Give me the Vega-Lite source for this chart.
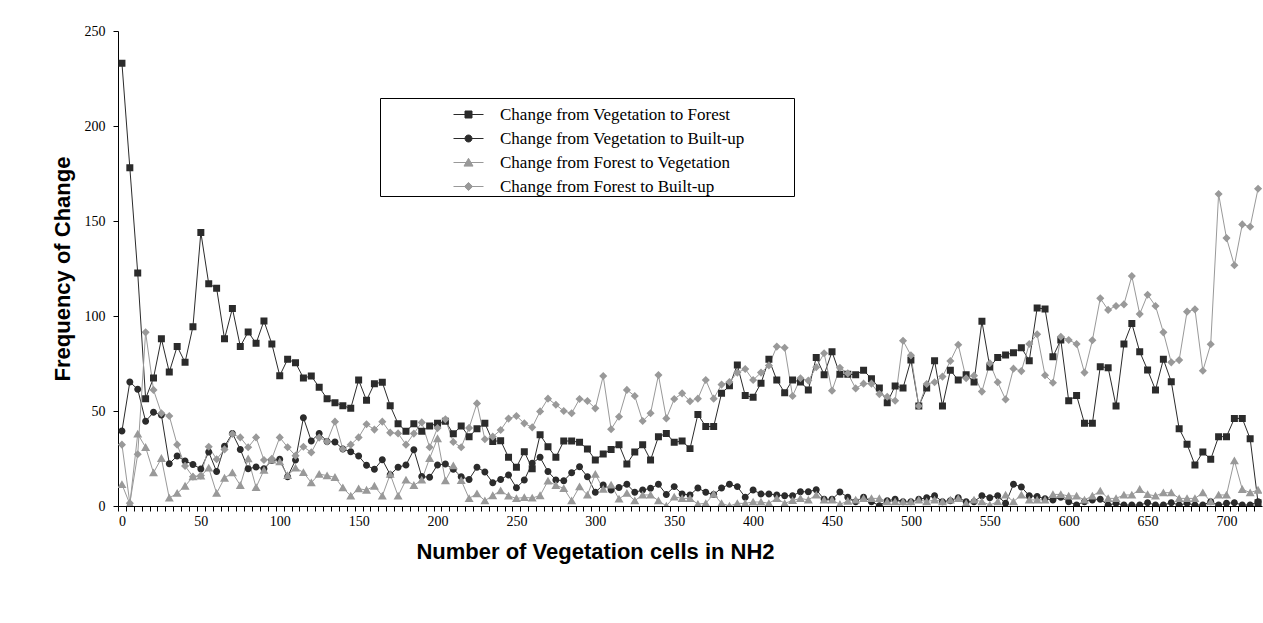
{
  "$schema": "https://vega.github.io/schema/vega-lite/v6.json",
  "width": 1144,
  "height": 475,
  "autosize": "none",
  "padding": {"left": 118, "top": 31, "right": 1, "bottom": 117},
  "background": "white",
  "config": {
    "view": {"stroke": null},
    "font": "Liberation Serif",
    "axis": {"domainColor": "black", "tickColor": "black", "labelColor": "black", "titleColor": "black", "grid": false, "domainWidth": 1, "tickWidth": 1},
    "legend": {
      "orient": "none", "legendX": 262, "legendY": 67, "padding": 1,
      "strokeColor": "black", "fillColor": "white",
      "symbolSize": 900, "symbolOffset": 72, "labelOffset": 16, "rowPadding": -3,
      "symbolStrokeWidth": 1, "symbolOpacity": 1,
      "labelFont": "Liberation Serif", "labelFontSize": 17, "labelColor": "black", "labelLimit": 0
    }
  },
  "data": {"values": [
    {"x":0,"VF":233,"VB":39.5,"FV":11.4,"FB":32.3},
    {"x":5,"VF":178,"VB":65.3,"FV":1,"FB":1.5},
    {"x":10,"VF":122.6,"VB":61.4,"FV":37.9,"FB":27.2},
    {"x":15,"VF":56.5,"VB":44.6,"FV":30.9,"FB":91.4},
    {"x":20,"VF":67.4,"VB":49.3,"FV":17.5,"FB":61.1},
    {"x":25,"VF":88,"VB":47.9,"FV":25.1,"FB":48.8},
    {"x":30,"VF":70.5,"VB":22.3,"FV":4.2,"FB":47.4},
    {"x":35,"VF":84,"VB":26.3,"FV":6.7,"FB":32.3},
    {"x":40,"VF":75.6,"VB":23.7,"FV":10.5,"FB":21.1},
    {"x":45,"VF":94.4,"VB":21.9,"FV":15.4,"FB":15.4},
    {"x":50,"VF":144,"VB":19.5,"FV":15.8,"FB":16},
    {"x":55,"VF":117,"VB":28.4,"FV":20,"FB":31.2},
    {"x":60,"VF":114.6,"VB":18.1,"FV":6.7,"FB":24.6},
    {"x":65,"VF":88,"VB":31.4,"FV":14.7,"FB":29.8},
    {"x":70,"VF":104,"VB":38.2,"FV":17.5,"FB":37.9},
    {"x":75,"VF":84,"VB":29.8,"FV":10.9,"FB":36.1},
    {"x":80,"VF":91.6,"VB":19.6,"FV":24.9,"FB":30.9},
    {"x":85,"VF":85.6,"VB":20.5,"FV":9.8,"FB":36.1},
    {"x":90,"VF":97.4,"VB":19.6,"FV":18.9,"FB":24.2},
    {"x":95,"VF":85.3,"VB":23.9,"FV":24.2,"FB":24.9},
    {"x":100,"VF":68.6,"VB":24.6,"FV":23.3,"FB":36.1},
    {"x":105,"VF":77.2,"VB":15.4,"FV":16.1,"FB":30.9},
    {"x":110,"VF":75.4,"VB":24.2,"FV":20,"FB":26.5},
    {"x":115,"VF":67.4,"VB":46.5,"FV":17.7,"FB":31.2},
    {"x":120,"VF":68.4,"VB":34.2,"FV":12.3,"FB":28.2},
    {"x":125,"VF":62.5,"VB":38.2,"FV":16.8,"FB":36},
    {"x":130,"VF":56.5,"VB":34,"FV":16,"FB":33.9},
    {"x":135,"VF":54.4,"VB":33.7,"FV":15.1,"FB":44.4},
    {"x":140,"VF":52.8,"VB":30,"FV":9.6,"FB":30},
    {"x":145,"VF":51.4,"VB":28.6,"FV":5.3,"FB":32.3},
    {"x":150,"VF":66.3,"VB":26.3,"FV":9.1,"FB":36.1},
    {"x":155,"VF":55.6,"VB":21.4,"FV":8.4,"FB":43},
    {"x":160,"VF":64.4,"VB":19.3,"FV":10.5,"FB":40.2},
    {"x":165,"VF":65.1,"VB":24.4,"FV":5.3,"FB":44.4},
    {"x":170,"VF":52.8,"VB":16.5,"FV":16.7,"FB":38.6},
    {"x":175,"VF":43.3,"VB":20.4,"FV":5.3,"FB":38.2},
    {"x":180,"VF":39.3,"VB":21.6,"FV":13.7,"FB":32.3},
    {"x":185,"VF":43.3,"VB":29.6,"FV":10.9,"FB":38.1},
    {"x":190,"VF":39.3,"VB":15.5,"FV":13.7,"FB":44},
    {"x":195,"VF":42.1,"VB":15.1,"FV":25.1,"FB":30.9},
    {"x":200,"VF":43.5,"VB":21.6,"FV":35.5,"FB":41},
    {"x":205,"VF":44.6,"VB":22.1,"FV":13.3,"FB":45.6},
    {"x":210,"VF":38,"VB":19.3,"FV":21.2,"FB":33.7},
    {"x":215,"VF":42.1,"VB":15.4,"FV":13.5,"FB":30.9},
    {"x":220,"VF":36.5,"VB":14,"FV":4,"FB":41.1},
    {"x":225,"VF":40.7,"VB":20.4,"FV":6.5,"FB":54},
    {"x":230,"VF":43.5,"VB":17.9,"FV":2.8,"FB":35.1},
    {"x":235,"VF":34,"VB":12.3,"FV":5.5,"FB":36.5},
    {"x":240,"VF":34.4,"VB":14,"FV":8.1,"FB":40},
    {"x":245,"VF":25.6,"VB":16.3,"FV":5.3,"FB":46},
    {"x":250,"VF":20.4,"VB":9.6,"FV":4,"FB":47.4},
    {"x":255,"VF":28.6,"VB":13.7,"FV":4.5,"FB":43.5},
    {"x":260,"VF":19.6,"VB":22.5,"FV":4.2,"FB":41.4},
    {"x":265,"VF":37.5,"VB":25.6,"FV":5.5,"FB":49.8},
    {"x":270,"VF":31.2,"VB":18.1,"FV":13.2,"FB":56.5},
    {"x":275,"VF":25.6,"VB":13.7,"FV":10.9,"FB":53.3},
    {"x":280,"VF":34.2,"VB":13.3,"FV":9.3,"FB":50},
    {"x":285,"VF":34.2,"VB":17.5,"FV":2.8,"FB":48.8},
    {"x":290,"VF":33.5,"VB":20.7,"FV":10.2,"FB":56.3},
    {"x":295,"VF":30,"VB":15.4,"FV":5.8,"FB":55.3},
    {"x":300,"VF":24.2,"VB":7.2,"FV":16.8,"FB":51.4},
    {"x":305,"VF":27.4,"VB":11.1,"FV":8.9,"FB":68.4},
    {"x":310,"VF":29.8,"VB":8.4,"FV":11.1,"FB":40.4},
    {"x":315,"VF":32.3,"VB":9.8,"FV":3.7,"FB":47},
    {"x":320,"VF":22.1,"VB":11.4,"FV":6.7,"FB":61.1},
    {"x":325,"VF":28.4,"VB":7.2,"FV":2.8,"FB":57.9},
    {"x":330,"VF":32.3,"VB":8.4,"FV":5.8,"FB":44.7},
    {"x":335,"VF":24.2,"VB":9.3,"FV":5.8,"FB":48.8},
    {"x":340,"VF":36.5,"VB":11.4,"FV":2.8,"FB":68.9},
    {"x":345,"VF":38.2,"VB":6.1,"FV":0,"FB":46.1},
    {"x":350,"VF":33.5,"VB":10.2,"FV":4.8,"FB":56.3},
    {"x":355,"VF":34.2,"VB":6.3,"FV":4,"FB":59.3},
    {"x":360,"VF":30.2,"VB":5.8,"FV":4,"FB":55.1},
    {"x":365,"VF":48.2,"VB":9.5,"FV":1,"FB":56.5},
    {"x":370,"VF":41.8,"VB":7.2,"FV":1.4,"FB":66.3},
    {"x":375,"VF":41.8,"VB":6,"FV":6.3,"FB":56.5},
    {"x":380,"VF":59.3,"VB":9.5,"FV":1.4,"FB":63.9},
    {"x":385,"VF":63.3,"VB":11.4,"FV":0,"FB":65.3},
    {"x":390,"VF":74.2,"VB":10.2,"FV":1.4,"FB":70.2},
    {"x":395,"VF":58.1,"VB":4.6,"FV":1.4,"FB":72.1},
    {"x":400,"VF":57.2,"VB":8.4,"FV":2.1,"FB":66.3},
    {"x":405,"VF":64.6,"VB":6.3,"FV":2.1,"FB":70.2},
    {"x":410,"VF":77.2,"VB":6.3,"FV":1.4,"FB":74},
    {"x":415,"VF":66.3,"VB":5.8,"FV":4,"FB":83.9},
    {"x":420,"VF":59.6,"VB":5.4,"FV":1.4,"FB":83.3},
    {"x":425,"VF":66.3,"VB":5.4,"FV":2.9,"FB":57.9},
    {"x":430,"VF":65.3,"VB":7.5,"FV":4,"FB":67.2},
    {"x":435,"VF":61.1,"VB":7.5,"FV":3.2,"FB":66},
    {"x":440,"VF":78.2,"VB":8.6,"FV":5.8,"FB":73},
    {"x":445,"VF":69.1,"VB":3.5,"FV":3.2,"FB":80.4},
    {"x":450,"VF":81.2,"VB":3.5,"FV":3.2,"FB":60.7},
    {"x":455,"VF":69.3,"VB":7.4,"FV":0.9,"FB":72.8},
    {"x":460,"VF":69.3,"VB":4.6,"FV":2.6,"FB":69.8},
    {"x":465,"VF":69.1,"VB":2.3,"FV":3.2,"FB":61.9},
    {"x":470,"VF":71.4,"VB":4.6,"FV":4,"FB":64.4},
    {"x":475,"VF":67,"VB":2.3,"FV":4,"FB":64.4},
    {"x":480,"VF":62.1,"VB":0.2,"FV":4,"FB":58.9},
    {"x":485,"VF":54.4,"VB":2.8,"FV":2.3,"FB":57.5},
    {"x":490,"VF":63.2,"VB":3.5,"FV":2.3,"FB":55.4},
    {"x":495,"VF":62.1,"VB":2.3,"FV":2.3,"FB":87},
    {"x":500,"VF":76.8,"VB":2.3,"FV":2.3,"FB":79.3},
    {"x":505,"VF":52.6,"VB":3.5,"FV":3.2,"FB":52.6},
    {"x":510,"VF":62.1,"VB":4.4,"FV":2.3,"FB":64.2},
    {"x":515,"VF":76.5,"VB":5.4,"FV":3.2,"FB":65.1},
    {"x":520,"VF":52.6,"VB":2.3,"FV":2.3,"FB":68.1},
    {"x":525,"VF":71.4,"VB":2.8,"FV":3.2,"FB":76.3},
    {"x":530,"VF":66.3,"VB":4.4,"FV":4,"FB":84.9},
    {"x":535,"VF":69.1,"VB":2.3,"FV":1.4,"FB":67.2},
    {"x":540,"VF":65.3,"VB":2.3,"FV":3.2,"FB":68.6},
    {"x":545,"VF":97.2,"VB":5.4,"FV":2.3,"FB":60.2},
    {"x":550,"VF":73.2,"VB":4.4,"FV":0.5,"FB":75.1},
    {"x":555,"VF":78.1,"VB":5.4,"FV":2.3,"FB":65.1},
    {"x":560,"VF":79.5,"VB":1.4,"FV":5.8,"FB":56.1},
    {"x":565,"VF":80.7,"VB":11.4,"FV":2.3,"FB":72.3},
    {"x":570,"VF":83.3,"VB":10,"FV":5.8,"FB":71},
    {"x":575,"VF":76.5,"VB":5.4,"FV":3.2,"FB":85.3},
    {"x":580,"VF":104.2,"VB":5,"FV":3.2,"FB":90.4},
    {"x":585,"VF":103.7,"VB":3.8,"FV":3.2,"FB":68.8},
    {"x":590,"VF":78.6,"VB":3.2,"FV":6.1,"FB":64.9},
    {"x":595,"VF":87.4,"VB":4.6,"FV":6.1,"FB":89.1},
    {"x":600,"VF":55.4,"VB":2.3,"FV":5.3,"FB":87.4},
    {"x":605,"VF":58.2,"VB":0.5,"FV":5.3,"FB":85.3},
    {"x":610,"VF":43.5,"VB":2.3,"FV":3.2,"FB":70.2},
    {"x":615,"VF":43.5,"VB":3.2,"FV":5.3,"FB":87.2},
    {"x":620,"VF":73.3,"VB":3.5,"FV":7.9,"FB":109.3},
    {"x":625,"VF":72.8,"VB":0.5,"FV":4,"FB":103.2},
    {"x":630,"VF":52.6,"VB":1.4,"FV":4,"FB":105.3},
    {"x":635,"VF":85.3,"VB":0.5,"FV":5.8,"FB":106.1},
    {"x":640,"VF":96.1,"VB":0.5,"FV":5.8,"FB":121},
    {"x":645,"VF":81.2,"VB":0.5,"FV":8.8,"FB":101},
    {"x":650,"VF":71.6,"VB":1.75,"FV":6.1,"FB":111.2},
    {"x":655,"VF":61.1,"VB":0.5,"FV":5.3,"FB":105.3},
    {"x":660,"VF":77.2,"VB":0.5,"FV":7,"FB":91.4},
    {"x":665,"VF":65.4,"VB":1.75,"FV":7,"FB":75.6},
    {"x":670,"VF":40.7,"VB":0.5,"FV":4,"FB":76.8},
    {"x":675,"VF":32.5,"VB":1.4,"FV":4,"FB":102.3},
    {"x":680,"VF":21.6,"VB":0.5,"FV":4,"FB":103.5},
    {"x":685,"VF":28.4,"VB":0.5,"FV":7,"FB":71.2},
    {"x":690,"VF":24.6,"VB":2.3,"FV":2.3,"FB":85.1},
    {"x":695,"VF":36.5,"VB":0.5,"FV":5.8,"FB":164.2},
    {"x":700,"VF":36.5,"VB":1.4,"FV":5.8,"FB":141},
    {"x":705,"VF":46.1,"VB":1.75,"FV":23.9,"FB":126.7},
    {"x":710,"VF":46.1,"VB":0.5,"FV":8.8,"FB":148.2},
    {"x":715,"VF":35.4,"VB":0.5,"FV":7,"FB":147},
    {"x":720,"VF":1.75,"VB":2.3,"FV":8.4,"FB":167}
  ]},
  "transform": [{"fold": ["VF", "VB", "FV", "FB"], "as": ["series", "v"]}],
  "encoding": {
    "x": {
      "field": "x", "type": "quantitative",
      "scale": {"domain": [-2.5, 722.5], "nice": false, "zero": false},
      "axis": {
        "title": "Number of Vegetation cells in NH2",
        "values": [0,5,10,15,20,25,30,35,40,45,50,55,60,65,70,75,80,85,90,95,100,105,110,115,120,125,130,135,140,145,150,155,160,165,170,175,180,185,190,195,200,205,210,215,220,225,230,235,240,245,250,255,260,265,270,275,280,285,290,295,300,305,310,315,320,325,330,335,340,345,350,355,360,365,370,375,380,385,390,395,400,405,410,415,420,425,430,435,440,445,450,455,460,465,470,475,480,485,490,495,500,505,510,515,520,525,530,535,540,545,550,555,560,565,570,575,580,585,590,595,600,605,610,615,620,625,630,635,640,645,650,655,660,665,670,675,680,685,690,695,700,705,710,715,720],
        "format": "d",
        "labelExpr": "datum.value % 50 === 0 ? datum.label : ''",
        "labelOverlap": false,
        "labelBound": false,
        "labelFlush": false,
        "tickOffset": -3.945,
        "labelOffset": 3.945,
        "tickSize": 5,
        "labelPadding": 3,
        "labelFont": "Liberation Serif",
        "labelFontSize": 14,
        "titleFont": "Liberation Sans",
        "titleFontSize": 22,
        "titleFontWeight": "bold",
        "titleX": 477,
        "titleY": 45,
        "titleBaseline": "middle",
        "titleAlign": "center"
      }
    },
    "y": {
      "field": "v", "type": "quantitative",
      "scale": {"domain": [0, 250], "nice": false},
      "axis": {
        "title": "Frequency of Change",
        "values": [0, 50, 100, 150, 200, 250],
        "format": "d",
        "tickSize": 5,
        "labelPadding": 8,
        "labelFont": "Liberation Serif",
        "labelFontSize": 14,
        "titleFont": "Liberation Sans",
        "titleFontSize": 22,
        "titleFontWeight": "bold",
        "titleX": -56,
        "titleY": 237.5,
        "titleBaseline": "middle",
        "titleAlign": "center"
      }
    }
  },
  "layer": [
    {
      "mark": {"type": "line", "strokeWidth": 1, "clip": true},
      "encoding": {
        "stroke": {
          "field": "series", "type": "nominal",
          "scale": {"domain": ["VF", "VB", "FV", "FB"], "range": ["#2b2b2b", "#2b2b2b", "#999999", "#999999"]},
          "legend": {"title": null, "labelExpr": "(datum.label === 'VF' ? 'Change from Vegetation to Forest' : datum.label === 'VB' ? 'Change from Vegetation to Built-up' : datum.label === 'FV' ? 'Change from Forest to Vegetation' : 'Change from Forest to Built-up') + '\u2800\u2800\u2800\u2800'"}
        }
      }
    },
    {
      "mark": {"type": "point", "filled": true, "opacity": 1, "size": 900, "clip": true},
      "encoding": {
        "fill": {
          "field": "series", "type": "nominal",
          "scale": {"domain": ["VF", "VB", "FV", "FB"], "range": ["#2b2b2b", "#2b2b2b", "#999999", "#999999"]},
          "legend": {"title": null, "labelExpr": "(datum.label === 'VF' ? 'Change from Vegetation to Forest' : datum.label === 'VB' ? 'Change from Vegetation to Built-up' : datum.label === 'FV' ? 'Change from Forest to Vegetation' : 'Change from Forest to Built-up') + '\u2800\u2800\u2800\u2800'"}
        },
        "shape": {
          "field": "series", "type": "nominal",
          "scale": {"domain": ["VF", "VB", "FV", "FB"], "range": [
            "M-1,0H1M-0.233,-0.233H0.233V0.233H-0.233Z",
            "M-1,0H1M0.233,0A0.233,0.233,0,1,1,-0.233,0A0.233,0.233,0,1,1,0.233,0Z",
            "M-1,0H1M0,-0.28L0.3,0.24L-0.3,0.24Z",
            "M-1,0H1M0,-0.27L0.27,0L0,0.27L-0.27,0Z"
          ]},
          "legend": {"title": null, "labelExpr": "(datum.label === 'VF' ? 'Change from Vegetation to Forest' : datum.label === 'VB' ? 'Change from Vegetation to Built-up' : datum.label === 'FV' ? 'Change from Forest to Vegetation' : 'Change from Forest to Built-up') + '\u2800\u2800\u2800\u2800'"}
        }
      }
    }
  ]
}
